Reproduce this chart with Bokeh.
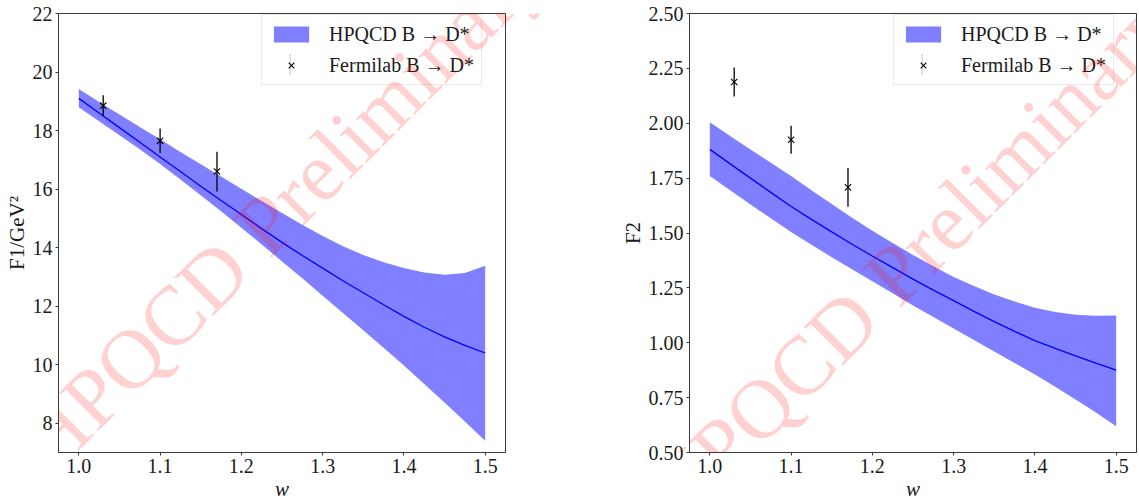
import math
from bokeh.plotting import figure
from bokeh.models import (Range1d, FixedTicker, NumeralTickFormatter, Legend,
                          LegendItem, Label, ColumnDataSource, BoxAnnotation, GridBox)
from bokeh.embed import file_html
from bokeh.resources import INLINE

# ---------------- data ----------------
w_grid = [1.0, 1.025, 1.05, 1.075, 1.1, 1.125, 1.15, 1.175, 1.2, 1.225, 1.25,
          1.275, 1.3, 1.325, 1.35, 1.375, 1.4, 1.425, 1.45, 1.475, 1.5]

f1_upper = [19.42, 18.98, 18.55, 18.12, 17.70, 17.27, 16.85, 16.43, 16.01, 15.59, 15.18,
            14.78, 14.40, 14.05, 13.75, 13.50, 13.30, 13.15, 13.07, 13.13, 13.38]
f1_central = [19.10, 18.60, 18.10, 17.60, 17.10, 16.60, 16.10, 15.61, 15.13, 14.65, 14.18,
              13.73, 13.30, 12.87, 12.46, 12.05, 11.65, 11.28, 10.95, 10.66, 10.40]
f1_lower = [18.80, 18.32, 17.84, 17.36, 16.86, 16.33, 15.79, 15.24, 14.68, 14.11, 13.53,
            12.95, 12.36, 11.77, 11.18, 10.58, 9.97, 9.34, 8.71, 8.06, 7.40]

f2_upper = [2.005, 1.942, 1.880, 1.820, 1.760, 1.695, 1.632, 1.570, 1.510, 1.454, 1.400,
            1.349, 1.300, 1.258, 1.220, 1.188, 1.160, 1.140, 1.128, 1.123, 1.124]
f2_central = [1.881, 1.815, 1.750, 1.685, 1.621, 1.562, 1.505, 1.449, 1.395, 1.342, 1.290,
              1.240, 1.192, 1.143, 1.096, 1.052, 1.010, 0.974, 0.940, 0.907, 0.875]
f2_lower = [1.760, 1.695, 1.630, 1.567, 1.505, 1.446, 1.390, 1.335, 1.280, 1.225, 1.170,
            1.117, 1.065, 1.012, 0.960, 0.908, 0.855, 0.800, 0.742, 0.682, 0.620]

fnal_w = [1.03, 1.1, 1.17]
fnal_f1 = [18.85, 17.65, 16.6]
fnal_f1_err = [0.36, 0.42, 0.68]
fnal_f2 = [2.188, 1.925, 1.708]
fnal_f2_err = [0.066, 0.064, 0.088]

x_ticks = [1.0, 1.1, 1.2, 1.3, 1.4, 1.5]
f1_ticks = [8, 10, 12, 14, 16, 18, 20, 22]
f2_ticks = [0.5, 0.75, 1.0, 1.25, 1.5, 1.75, 2.0, 2.25, 2.5]

label_hpqcd = "HPQCD B \u2192 D*"
label_fnal = "Fermilab B \u2192 D*"
watermark = "HPQCD Preliminary"

FONT = "Liberation Serif"
AX = "#3a3a3a"
TXT = "#1a1a1a"

W, H = 1139, 503

# legend geometry (screen px)
LG_PAD = 7
LG_ROW = 24
LG_SPACING = 7
LG_GW = 44
LG_GH = 20
LG_BAR = 21


def make_panel(central, upper, lower, pts, errs, ylabel, yrange, yticks, yfmt,
               width, bl, br, bt, bb, lg_xy):
    p = figure(width=width, height=H, output_backend="svg", toolbar_location=None,
               x_range=Range1d(0.975, 1.525), y_range=Range1d(*yrange),
               min_border_left=bl, min_border_right=br, min_border_top=bt,
               min_border_bottom=bb)
    p.grid.visible = False
    p.outline_line_color = AX
    p.outline_line_width = 1
    p.background_fill_color = "white"
    p.border_fill_color = "white"

    band_src = ColumnDataSource(dict(w=w_grid, c=central, u=upper, l=lower))
    band = p.varea(x="w", y1="l", y2="u", source=band_src,
                   fill_color="#0000ff", fill_alpha=0.5)
    p.line(x="w", y="c", source=band_src, line_color="#0000ff", line_width=1.3)

    lo = [v - e for v, e in zip(pts, errs)]
    hi = [v + e for v, e in zip(pts, errs)]
    pt_src = ColumnDataSource(dict(w=fnal_w, v=pts, lo=lo, hi=hi))
    p.segment(x0="w", y0="lo", x1="w", y1="hi", source=pt_src,
              line_color="black", line_width=1.3)
    xs = p.scatter(x="w", y="v", source=pt_src, marker="x", size=9,
                   line_color="black", line_width=1.1)

    for ax in (p.xaxis[0], p.yaxis[0]):
        ax.axis_line_color = AX
        ax.major_tick_line_color = AX
        ax.major_tick_out = 3
        ax.major_tick_in = 0
        ax.minor_tick_line_color = None
        ax.major_label_text_font = FONT
        ax.major_label_text_font_size = "20px"
        ax.major_label_text_color = TXT
        ax.axis_label_text_font = FONT
        ax.axis_label_text_font_size = "21px"
        ax.axis_label_text_color = TXT
        ax.major_label_standoff = 3
        ax.axis_label_standoff = 1

    p.xaxis.ticker = FixedTicker(ticks=x_ticks)
    p.xaxis.formatter = NumeralTickFormatter(format="0.0")
    p.xaxis.axis_label = "w"
    p.xaxis.axis_label_text_font_style = "italic"
    p.yaxis.ticker = FixedTicker(ticks=yticks)
    p.yaxis.formatter = NumeralTickFormatter(format=yfmt)
    p.yaxis.axis_label = ylabel
    p.yaxis.axis_label_text_font_style = "normal"

    legend = Legend(items=[LegendItem(label=label_hpqcd, renderers=[band]),
                           LegendItem(label=label_fnal, renderers=[xs])],
                    location=lg_xy, click_policy="none")
    legend.label_text_font = FONT
    legend.label_text_font_size = "20px"
    legend.label_text_color = TXT
    legend.label_height = LG_ROW
    legend.glyph_width = LG_GW
    legend.glyph_height = LG_GH
    legend.label_standoff = 16
    legend.padding = LG_PAD
    legend.spacing = LG_SPACING
    legend.margin = 0
    legend.border_line_color = "#d5d5d5"
    legend.border_line_width = 1
    legend.background_fill_alpha = 0.85
    p.add_layout(legend)

    # vertical error-bar stroke of the legend's Fermilab entry
    cx = lg_xy[0] + LG_PAD + LG_GW / 2
    cy = lg_xy[1] + LG_PAD + LG_ROW - LG_GH / 2
    bar = BoxAnnotation(left=cx - 1.0, right=cx + 0.5,
                        bottom=cy - LG_BAR / 2, top=cy + LG_BAR / 2,
                        left_units="screen", right_units="screen",
                        bottom_units="screen", top_units="screen",
                        fill_color="black", fill_alpha=1.0, line_color=None,
                        level="overlay")
    p.add_layout(bar)
    return p


p1 = make_panel(f1_central, f1_upper, f1_lower, fnal_f1, fnal_f1_err,
                "F1/GeV\u00b2", (7, 22), f1_ticks, "0", 600, 58, 95, 13, 47,
                (203, 367))
p2 = make_panel(f2_central, f2_upper, f2_lower, fnal_f2, fnal_f2_err,
                "F2", (0.5, 2.5), f2_ticks, "0.00", 539, 89, 3, 12, 48,
                (204, 367))

# transparent overlay carrying the "HPQCD Preliminary" watermarks (page pixels)
ov = figure(width=W, height=H, output_backend="svg", toolbar_location=None,
            x_range=Range1d(0, W), y_range=Range1d(H, 0),
            x_axis_location=None, y_axis_location=None, min_border=0)
ov.grid.visible = False
ov.outline_line_color = None
ov.background_fill_alpha = 0
ov.border_fill_alpha = 0
for (wx, wy) in [(-27, 507), (638, 564)]:
    ov.add_layout(Label(x=wx, y=wy, text=watermark, angle=math.pi / 4,
                        text_font=FONT, text_font_size="84px", text_color="red",
                        text_alpha=0.18, text_align="left",
                        text_baseline="alphabetic"))

layout = GridBox(children=[(p1, 0, 0), (p2, 0, 1), (ov, 0, 0, 1, 2)])
open("out.html", "w").write(file_html(layout, INLINE))
